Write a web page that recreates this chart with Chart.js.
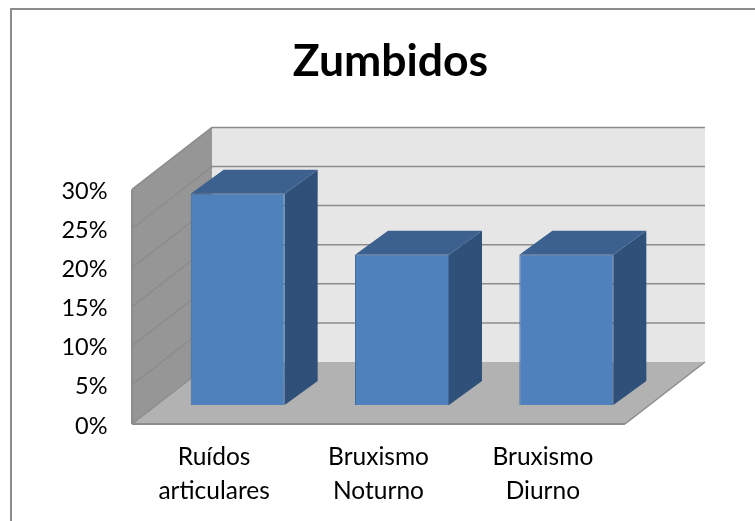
<!DOCTYPE html>
<html>
<head>
<meta charset="utf-8">
<title>Zumbidos</title>
<script src="https://cdn.jsdelivr.net/npm/chart.js@4"></script>
<style>
    html, body { margin: 0; padding: 0; background: #fff; }
    #wrap { position: relative; width: 755px; height: 521px; overflow: hidden; }
    #frame { position: absolute; left: 10px; top: 8px; width: 760px; height: 530px; border: 2px solid #8c8c8c; box-sizing: border-box; }
    canvas { position: absolute; left: 0; top: 0; }
</style>
</head>
<body>
<div id="wrap">
    <div id="frame"></div>
    <canvas id="chart" width="755" height="521"></canvas>
</div>
<script>
const categories = [['Ruídos', 'articulares'], ['Bruxismo', 'Noturno'], ['Bruxismo', 'Diurno']];
const values = [27, 19.2, 19.2];
const chartTitle = 'Zumbidos';

// depth of the fake 3D box, and where the bars sit inside it
const box = { dx: 80, dy: -62 };
const barShift = { dx: 23.5, dy: -19 };
const barDepth = { dx: 33, dy: -24 };

function poly(ctx, pts, fill) {
    ctx.beginPath();
    pts.forEach((p, i) => i ? ctx.lineTo(p[0], p[1]) : ctx.moveTo(p[0], p[1]));
    ctx.closePath();
    ctx.fillStyle = fill;
    ctx.fill();
}

function line(ctx, x1, y1, x2, y2, color, width) {
    ctx.beginPath();
    ctx.moveTo(x1, y1);
    ctx.lineTo(x2, y2);
    ctx.strokeStyle = color;
    ctx.lineWidth = width;
    ctx.stroke();
}

const box3d = {
    id: 'box3d',
    beforeDatasetsDraw(chart) {
        const ctx = chart.ctx;
        const { left, right } = chart.chartArea;
        const y = chart.scales.y;
        const y0 = y.getPixelForValue(0);
        const yTop = y.getPixelForValue(30);
        const { dx, dy } = box;
        const gridColor = '#8c8c8c';

        ctx.save();
        // back wall
        poly(ctx, [[left + dx, yTop + dy], [right + dx, yTop + dy], [right + dx, y0 + dy], [left + dx, y0 + dy]], '#e6e6e6');
        // side wall
        poly(ctx, [[left, yTop], [left + dx, yTop + dy], [left + dx, y0 + dy], [left, y0]], '#969696');
        // floor
        poly(ctx, [[left, y0], [left + dx, y0 + dy], [right + dx, y0 + dy], [right, y0]], '#b2b2b2');

        // grid lines run along the side wall and the back wall
        y.ticks.forEach(t => {
            const py = y.getPixelForValue(t.value);
            line(ctx, left, py, left + dx, py + dy, gridColor, 1.5);
            if (t.value > 0) line(ctx, left + dx, py + dy, right + dx, py + dy, gridColor, 1.5);
        });
        line(ctx, left, yTop, left, y0, gridColor, 2);
        line(ctx, left, y0, right, y0, gridColor, 2);
        line(ctx, right, y0, right + dx, y0 + dy, gridColor, 1.5);

        // bar sides and tops, the fronts come from the bar elements
        chart.getDatasetMeta(0).data.forEach(bar => {
            const x1 = bar.x - bar.width / 2 + barShift.dx;
            const x2 = bar.x + bar.width / 2 + barShift.dx;
            const top = bar.y + barShift.dy;
            const bottom = bar.base + barShift.dy;
            poly(ctx, [[x2, top], [x2 + barDepth.dx, top + barDepth.dy], [x2 + barDepth.dx, bottom + barDepth.dy], [x2, bottom]], '#2f5179');
            poly(ctx, [[x1, top], [x1 + barDepth.dx, top + barDepth.dy], [x2 + barDepth.dx, top + barDepth.dy], [x2, top]], '#3c618f');
        });
        ctx.restore();

        // the bars stand inside the box, not on its front edge
        ctx.save();
        ctx.translate(barShift.dx, barShift.dy);
    },
    afterDatasetsDraw(chart) {
        chart.ctx.restore();
    }
};

new Chart(document.getElementById('chart'), {
    type: 'bar',
    data: {
        labels: categories,
        datasets: [{
            data: values,
            backgroundColor: '#4f81bd',
            borderColor: '#41699a',
            borderWidth: 1,
            categoryPercentage: 1,
            barPercentage: 0.572
        }]
    },
    options: {
        responsive: false,
        animation: false,
        layout: { padding: { left: 26, right: 0, top: 0, bottom: 0 } },
        plugins: {
            legend: { display: false },
            tooltip: { enabled: false },
            title: {
                display: true,
                text: chartTitle,
                color: '#000',
                font: { family: 'Lato', size: 44.5, weight: 'bold' },
                padding: { top: 35, bottom: 101 }
            }
        },
        scales: {
            x: {
                grid: { display: false, drawTicks: false },
                border: { display: false },
                ticks: {
                    color: '#000',
                    padding: 16.5,
                    maxRotation: 0,
                    font: { family: 'Lato', size: 24.5, lineHeight: 1.38 }
                },
                afterFit(scale) { scale.height = 97; }
            },
            y: {
                min: 0,
                max: 30,
                grid: { display: false, drawTicks: false },
                border: { display: false },
                ticks: {
                    color: '#000',
                    stepSize: 5,
                    padding: 24.5,
                    labelOffset: 2,
                    font: { family: 'Lato', size: 23.5 },
                    callback: v => v + '%'
                },
                afterFit(scale) { scale.width = 106; }
            },
            // empty axis, only keeps the space on the right of the box
            y2: {
                position: 'right',
                grid: { display: false, drawTicks: false },
                border: { display: false },
                ticks: { display: false },
                afterFit(scale) { scale.width = 130; }
            }
        }
    },
    plugins: [box3d]
});
</script>
</body>
</html>
